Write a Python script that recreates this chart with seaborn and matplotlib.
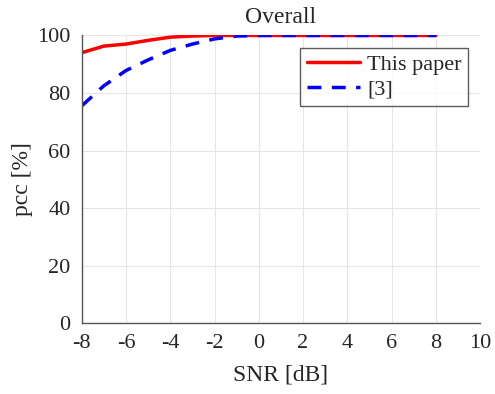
import numpy as np
import pandas as pd
import matplotlib
matplotlib.use("Agg")
import matplotlib.pyplot as plt
import seaborn as sns

snr = [-8, -7, -6, -5, -4, -3, -2, -1, 0, 1, 2, 3, 4, 5, 6, 7, 8]
pcc_this = [94, 96.3, 97, 98.3, 99.4, 99.8, 100, 100, 100, 100, 100, 100, 100, 100, 100, 100, 100]
pcc_ref3 = [75.5, 82.5, 87.8, 91.5, 94.8, 97, 98.8, 99.8, 100, 100, 100, 100, 100, 100, 100, 100, 100]

df = pd.DataFrame({
    "SNR": snr * 2,
    "pcc": pcc_this + pcc_ref3,
    "method": ["This paper"] * len(snr) + ["[3]"] * len(snr),
})

sns.set_style("whitegrid")
plt.rcParams["font.family"] = ["Liberation Serif", "DejaVu Serif"]

fig, ax = plt.subplots(figsize=(4.95, 3.94), dpi=100)
sns.lineplot(data=df, x="SNR", y="pcc", hue="method", style="method",
             palette={"This paper": "#ff0000", "[3]": "#0000ff"},
             dashes={"This paper": "", "[3]": (4, 3)},
             linewidth=2.5, ax=ax)

ax.set_xlim(-8, 10)
ax.set_ylim(0, 100)
ax.set_xticks(np.arange(-8, 11, 2))
ax.set_yticks(np.arange(0, 101, 20))
ax.set_xticklabels([str(v) for v in range(-8, 11, 2)])
ax.tick_params(direction="in", labelsize=16, length=4, color="#555555", pad=8)
ax.grid(True, color="#e6e6e6", linewidth=0.8)
for s in ["top", "right"]:
    ax.spines[s].set_visible(False)
for s in ["left", "bottom"]:
    ax.spines[s].set_color("#555555")
    ax.spines[s].set_linewidth(1.0)
ax.set_xlabel("SNR [dB]", fontsize=17, labelpad=8)
ax.set_ylabel("pcc [%]", fontsize=17, labelpad=3)
ax.set_title("Overall", fontsize=17, pad=9)

leg = ax.legend(loc="upper right", bbox_to_anchor=(0.97, 0.958), fontsize=16,
                frameon=True, fancybox=False, handlelength=2.4, borderaxespad=0,
                borderpad=0.3, labelspacing=0.2, handletextpad=0.3)
leg.get_frame().set_edgecolor("#333333")
leg.get_frame().set_linewidth(1.0)
leg.set_title(None)

fig.subplots_adjust(left=0.165, right=0.97, top=0.91, bottom=0.18)
fig.savefig("out.png", dpi=100)
